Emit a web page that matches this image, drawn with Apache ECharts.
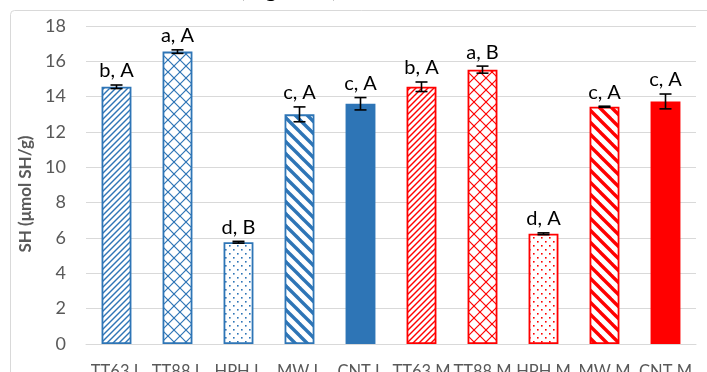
<!DOCTYPE html>
<html>
<head>
<meta charset="utf-8">
<script src="https://cdn.jsdelivr.net/npm/echarts@6/dist/echarts.min.js"></script>
<style>
html,body{margin:0;padding:0;background:#fff;}
#c{width:707px;height:372px;}
</style>
</head>
<body>
<div id="c"></div>
<script>
// ---- data ----
const categories = ['TT63 L','TT88 L','HPH L','MW L','CNT L','TT63 M','TT88 M','HPH M','MW M','CNT M'];
const values = [14.56, 16.55, 5.76, 13.0, 13.6, 14.56, 15.53, 6.24, 13.43, 13.73];
const errors = [0.1, 0.1, 0.05, 0.42, 0.35, 0.27, 0.2, 0.05, 0.03, 0.42];
const letters = ['b, A','a, A','d, B','c, A','c, A','b, A','a, B','d, A','c, A','c, A'];
const patterns = ['up','diamond','dots','wide','solid','up','diamond','dots','wide','solid'];
const groupColors = ['#2E75B6','#2E75B6','#2E75B6','#2E75B6','#2E75B6','#FF0000','#FF0000','#FF0000','#FF0000','#FF0000'];
const yTicks = [0,2,4,6,8,10,12,14,16,18];

function makePattern(kind, color){
  if(kind === 'solid') return color;
  const c = document.createElement('canvas');
  let w = 6, h = 6;
  if(kind==='diamond'){w=12;h=12;}
  if(kind==='dots'){w=8;h=8;}
  if(kind==='wide'){w=12;h=12;}
  c.width=w; c.height=h;
  const g = c.getContext('2d');
  g.fillStyle='#fff'; g.fillRect(0,0,w,h);
  g.strokeStyle=color; g.fillStyle=color;
  function line(x1,y1,x2,y2){g.beginPath();g.moveTo(x1,y1);g.lineTo(x2,y2);g.stroke();}
  if(kind==='up'){
    g.lineWidth=1.4;
    line(-1,7,7,-1); line(-7,7,7,-7); line(-1,13,13,-1);
  } else if(kind==='diamond'){
    g.lineWidth=1.2;
    line(-1,13,13,-1); line(-1,-1,13,13);
    line(-7,7,7,-7); line(5,19,19,5);
    line(-7,5,7,19); line(5,-7,19,7);
  } else if(kind==='dots'){
    g.fillRect(1,1,1.6,1.6); g.fillRect(5,5,1.6,1.6);
  } else if(kind==='wide'){
    g.lineWidth=3.4;
    line(-2,-2,14,14); line(-8,4,8,20); line(4,-8,20,8);
  }
  return {image:c, repeat:'repeat'};
}

const barData = values.map((v,i)=>({
  value: v,
  itemStyle:{ color: makePattern(patterns[i], groupColors[i]), borderColor: groupColors[i], borderWidth: 1.8 }
}));
const errData = values.map((v,i)=>[i, v, errors[i], letters[i]]);

const chart = echarts.init(document.getElementById('c'), null, {renderer:'canvas'});
chart.setOption({
  animation:false,
  backgroundColor:'#fff',
  graphic:[
    {type:'rect', shape:{x:10.5,y:10.5,width:760,height:420,r:4}, style:{fill:'none',stroke:'#D9D9D9',lineWidth:1}, z:-10, silent:true},
    {type:'text', style:{text:'tate surface sites (Figure 1)', x:338, y:1, textAlign:'right', textVerticalAlign:'bottom', font:'24px Lato', fill:'#000'}}
  ],
  grid:{left:86, right:11, top:26, bottom:28, containLabel:false, outerBoundsMode:'none'},
  xAxis:{
    type:'category', data:categories,
    axisLine:{lineStyle:{color:'#D9D9D9',width:1}},
    axisTick:{show:false},
    axisLabel:{color:'#595959', fontFamily:'Lato', fontSize:16.5, margin:19, interval:0, hideOverlap:false}
  },
  yAxis:{
    type:'value', min:0, max:18, interval:2,
    name:'SH (μmol SH/g)', nameLocation:'middle', nameGap:45, nameRotate:90,
    nameTextStyle:{color:'#595959', fontFamily:'Lato', fontWeight:'bold', fontSize:17, padding:[0,0,0,-18]},
    axisLine:{show:false}, axisTick:{show:false},
    splitLine:{lineStyle:{color:'#D9D9D9',width:1}},
    axisLabel:{color:'#595959', fontFamily:'Lato', fontSize:18, margin:20,
      formatter: v => yTicks.indexOf(v)>=0 ? String(v) : ''}
  },
  series:[
    {type:'bar', data:barData, barWidth:'49%'},
    {type:'custom', data:errData, z:5,
      renderItem:function(params, api){
        const x = api.value(0), v = api.value(1), e = api.value(2);
        const pt = api.coord([x, v+e]);
        const pb = api.coord([x, v-e]);
        const cx = pt[0], hw = 6;
        const st = {stroke:'#000', lineWidth:1.6};
        return {type:'group', children:[
          {type:'line', shape:{x1:cx,y1:pt[1],x2:cx,y2:pb[1]}, style:st},
          {type:'line', shape:{x1:cx-hw,y1:pt[1],x2:cx+hw,y2:pt[1]}, style:st},
          {type:'line', shape:{x1:cx-hw,y1:pb[1],x2:cx+hw,y2:pb[1]}, style:st},
          {type:'text', style:{text:errData[params.dataIndex][3], x:cx, y:pt[1]-4, textAlign:'center', textVerticalAlign:'bottom', font:'20px Lato', fill:'#000'}}
        ]};
      }
    }
  ]
});
</script>
</body>
</html>
